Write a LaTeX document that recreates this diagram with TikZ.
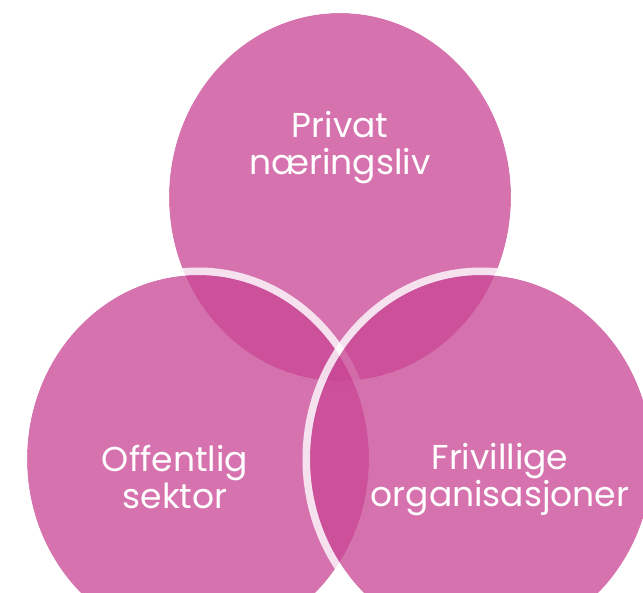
\documentclass[tikz,border=0pt]{standalone}
\usepackage{fontspec}
\setmainfont{Poppins}
\usepackage{xcolor}
\usetikzlibrary{shapes.geometric}

\definecolor{vennpink}{RGB}{201,70,148}

\begin{document}
\begin{tikzpicture} [
       x=1pt, y=-1pt,
       sector/.style={ellipse, fill=vennpink, fill opacity=0.76,
               minimum width=342pt, minimum height=368pt,
               inner sep=0pt, outer sep=0pt},
       ring/.style={draw=white, draw opacity=0.8, line width=7.5pt},
       label/.style={text=white, align=center, inner sep=0pt,
               font=\fontsize{34.5}{37}\selectfont},
       ]
       \useasboundingbox (0,0) rectangle (643,593);
       \clip (0,0) rectangle (643,593);
       % the three sectors, each with a light rim
       \node (privat) [sector] at (340,197) {};
       \draw[ring] (privat.center) ellipse [x radius=174.75pt, y radius=187.75pt];
       \node (offentlig) [sector] at (198,459) {};
       \draw[ring] (offentlig.center) ellipse [x radius=174.75pt, y radius=187.75pt];
       \node (frivillig) [sector] at (481,459) {};
       \draw[ring] (frivillig.center) ellipse [x radius=174.75pt, y radius=187.75pt];
       % labels
       \node (privattxt) [label] at (340,148) {Privat\\næringsliv};
       \node (offentligtxt) [label] at (175,477) {Offentlig\\sektor};
       \node (frivilligtxt) [label] at (500,480) {Frivillige\\organisasjoner};
\end{tikzpicture}
\end{document}
